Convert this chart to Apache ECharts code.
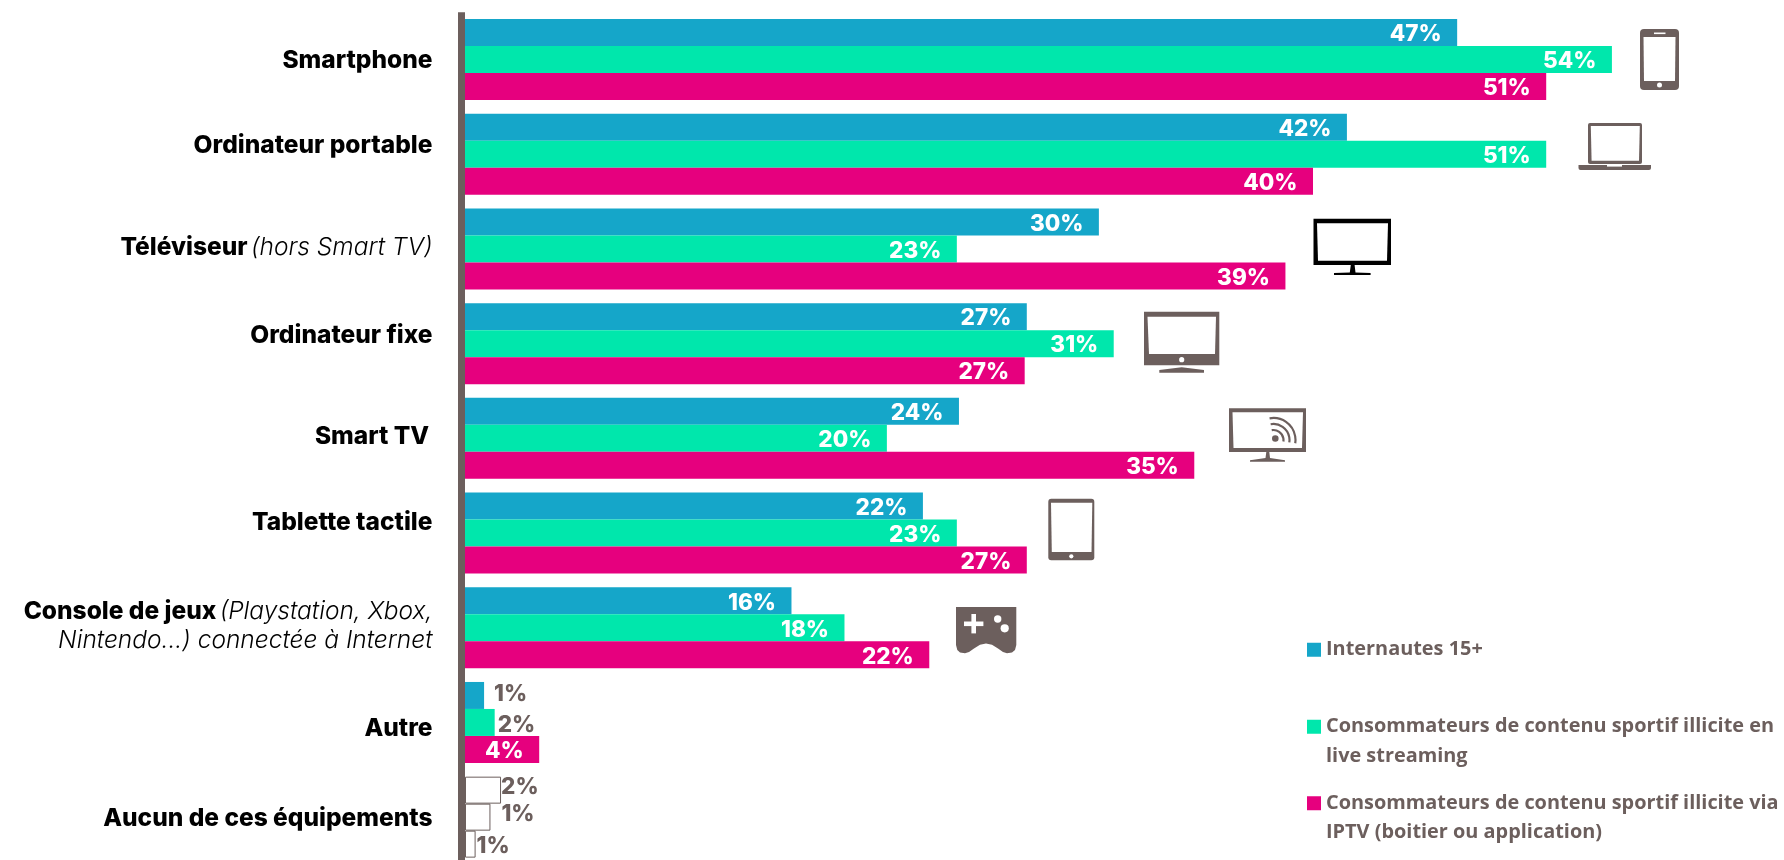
<!DOCTYPE html>
<html><head><meta charset="utf-8">
<style>html,body{margin:0;padding:0;background:#fff}#c{width:1784px;height:860px}</style>
<script src="https://cdn.jsdelivr.net/npm/echarts@6/dist/echarts.min.js"></script>
</head><body><div id="c"></div>
<script>
const categories = [
  '{b|Smartphone}',
  '{b|Ordinateur portable}',
  '{b|Téléviseur} {i|(hors Smart TV)}',
  '{b|Ordinateur fixe}',
  '{b|Smart TV} ',
  '{b|Tablette tactile}',
  '{b|Console de jeux} {i|(Playstation, Xbox,}\n{i|Nintendo...) connectée à Internet}',
  '{b|Autre}',
  '{b|Aucun de ces équipements}'
];
const seriesNames = [
  'Internautes 15+',
  'Consommateurs de contenu sportif illicite en live streaming',
  'Consommateurs de contenu sportif illicite via IPTV (boitier ou application)'
];
const internautes   = [46.8, 41.6, 29.9, 26.5, 23.3, 21.6, 15.4, 0.9, 1.7];
const liveStreaming = [54.1, 51.0, 23.2, 30.6, 19.9, 23.2, 17.9, 1.4, 1.2];
const iptv          = [51.0, 40.0, 38.7, 26.4, 34.4, 26.5, 21.9, 3.5, 0.5];
const internautesLabels   = ['47%','42%','30%','27%','24%','22%','16%','1%','2%'];
const liveStreamingLabels = ['54%','51%','23%','31%','20%','23%','18%','2%','1%'];
const iptvLabels          = ['51%','40%','39%','27%','35%','27%','22%','4%','1%'];

const GREY = '#6c5f5d', BLUE = '#15a6c9', GREEN = '#00e7ac', PINK = '#e6007e';
const catShift = [1, -9, -1, -8, -2, -10, -2, 6, 1];

const outside = {
  '0-7': {distance: 10, offset: [0, -1]},
  '1-7': {distance: 3,  offset: [0, 3]},
  '0-8': {distance: 0,  offset: [0, -3]},
  '1-8': {distance: 11, offset: [0, -3]},
  '2-8': {distance: 1,  offset: [0, 2]}
};
function items(si, vals, labels) {
  return vals.map((v, i) => {
    const o = outside[si + '-' + i];
    const d = {value: v, label: {formatter: labels[i]}};
    if (o) Object.assign(d.label, {position: 'right', color: GREY}, o);
    if (i === 8) d.itemStyle = {color: '#fff', borderColor: GREY, borderWidth: 1};
    return d;
  });
}
function bar(si, vals, labels, color) {
  return {
    type: 'bar', name: seriesNames[si], data: items(si, vals, labels),
    barGap: 0, barCategoryGap: '14.5%', itemStyle: {color},
    label: {show: true, position: 'insideRight', distance: 15.5, offset: [0, 2], color: '#fff',
      fontFamily: 'Inter', fontWeight: 800, fontSize: 22.5}
  };
}
const legendCommon = {
  orient: 'vertical', selectedMode: false, itemWidth: 14, itemHeight: 14, itemGap: 5,
  icon: 'rect', padding: 0, left: 1307,
  textStyle: {fontFamily: '"Open Sans"', fontWeight: 700, fontSize: 19.9, color: GREY, lineHeight: 29.5}
};
// a leading empty line keeps the marker beside the first of the two text lines
const wrap = n => n.includes(' en live') ? '\n' + n.replace(' en live', ' en\nlive')
  : n.includes(' via IPTV') ? '\n' + n.replace(' via IPTV', ' via\nIPTV') : n;

function R(x, y, w, h, fill, r) {
  return {type: 'rect', shape: {x, y, width: w, height: h, r: r || 0}, style: {fill}, silent: true};
}
function C(cx, cy, r, fill) {
  return {type: 'circle', shape: {cx, cy, r}, style: {fill}, silent: true};
}
function P(points, fill) {
  return {type: 'polygon', shape: {points}, style: {fill}, silent: true};
}
function A(cx, cy, r) {
  return {type: 'arc', shape: {cx, cy, r, startAngle: -1.75, endAngle: 0.15, clockwise: true},
    style: {stroke: GREY, lineWidth: 2.2, fill: null}, silent: true};
}
const icons = [
  // phone
  R(1640, 29, 39, 61, GREY, 4), P([[1643.5,37],[1675.5,37],[1675,81],[1644,81]], '#fff'), R(1654, 32.5, 11.5, 1.6, '#fff'), C(1659.5, 85, 2.5, '#fff'),
  // laptop
  R(1588, 123, 54, 41, GREY, 2), P([[1590.8,126],[1639.8,126],[1639,160.8],[1591.6,160.8]], '#fff'), R(1578.5, 165, 72.5, 5, GREY, [0,0,2,2]), R(1607, 165, 15, 1.6, '#fff'),
  // TV (black)
  R(1313.5, 218.7, 77.5, 46.3, '#000'), P([[1317,223.3],[1388,223.3],[1387,260.7],[1318,260.7]], '#fff'),
  P([[1350.8,265],[1354.6,265],[1355.5,272.5],[1370.6,273],[1370.6,275],[1334,275],[1334,273],[1349.8,272.5]], '#000'),
  // desktop
  R(1144, 311.7, 75.3, 53.6, GREY), P([[1147.5,316.7],[1216,316.7],[1215,354],[1149,354]], '#fff'), C(1181.7, 359.7, 2.6, '#fff'),
  P([[1181.7,367.3],[1204,370],[1204,372.7],[1159.3,372.7],[1159.3,370]], GREY),
  // smart TV
  R(1229, 408.3, 77, 43.7, GREY), P([[1232.5,412.3],[1303,412.3],[1302,448],[1233.5,448]], '#fff'),
  P([[1266.3,452],[1269.3,452],[1270,458],[1285,460.3],[1285,461.7],[1250,461.7],[1250,460.3],[1265.5,458]], GREY),
  C(1275.3, 438.5, 3.3, GREY), A(1273.5, 440, 10), A(1273.5, 440, 16), A(1273.5, 440, 22),
  // tablet
  R(1048.3, 498.7, 46, 61.6, GREY, 3), P([[1051,502.7],[1092.3,502.7],[1091.5,552],[1051.8,552]], '#fff'), C(1071.3, 556.3, 2.1, '#fff'),
  // gamepad
  P([[956,607],[1016.3,607],[1016.3,645],[1015,650],[1012,652.6],[1007,653.3],[1003,652],[998,648.5],[992,644.8],[986,643.5],[980,644.8],[974,648.5],[969,652],[965,653.3],[960,652.6],[957.3,650],[956,645]], GREY),
  R(964, 621.5, 19.4, 4.6, '#fff'), R(971.4, 614, 4.6, 19.4, '#fff'), C(997.7, 619, 3.7, '#fff'), C(1004.7, 628.3, 4.1, '#fff')
];

const chart = echarts.init(document.getElementById('c'), null, {renderer: 'canvas'});
chart.setOption({
  animation: false,
  backgroundColor: '#fff',
  grid: {left: 465, top: 12.2, width: 1272, height: 852.3, containLabel: false, outerBoundsMode: 'none'},
  xAxis: {type: 'value', min: 0, max: 60, show: false, splitLine: {show: false}},
  yAxis: {
    type: 'category', inverse: true, offset: 3.5,
    data: categories.map((c, i) => ({
      value: c,
      textStyle: {padding: catShift[i] < 0 ? [0, 0, -2 * catShift[i], 0] : [2 * catShift[i], 0, 0, 0]}
    })),
    axisLine: {show: true, onZero: false, lineStyle: {color: GREY, width: 7, cap: 'butt'}},
    axisTick: {show: false},
    axisLabel: {
      margin: 29, align: 'right', interval: 0, lineHeight: 29, color: '#000',
      rich: {
        b: {fontFamily: 'Inter', fontWeight: 800, fontSize: 24.5, color: '#000', lineHeight: 29},
        i: {fontFamily: 'Inter', fontStyle: 'italic', fontWeight: 300, fontSize: 24.5, color: '#000', lineHeight: 29}
      }
    }
  },
  legend: [
    Object.assign({}, legendCommon, {top: 635, data: [seriesNames[0]], formatter: wrap}),
    Object.assign({}, legendCommon, {top: 682.5, data: [seriesNames[1]], formatter: wrap}),
    Object.assign({}, legendCommon, {top: 759, data: [seriesNames[2]], formatter: wrap})
  ],
  graphic: {elements: icons},
  series: [
    bar(0, internautes, internautesLabels, BLUE),
    bar(1, liveStreaming, liveStreamingLabels, GREEN),
    bar(2, iptv, iptvLabels, PINK)
  ]
});
</script></body></html>
